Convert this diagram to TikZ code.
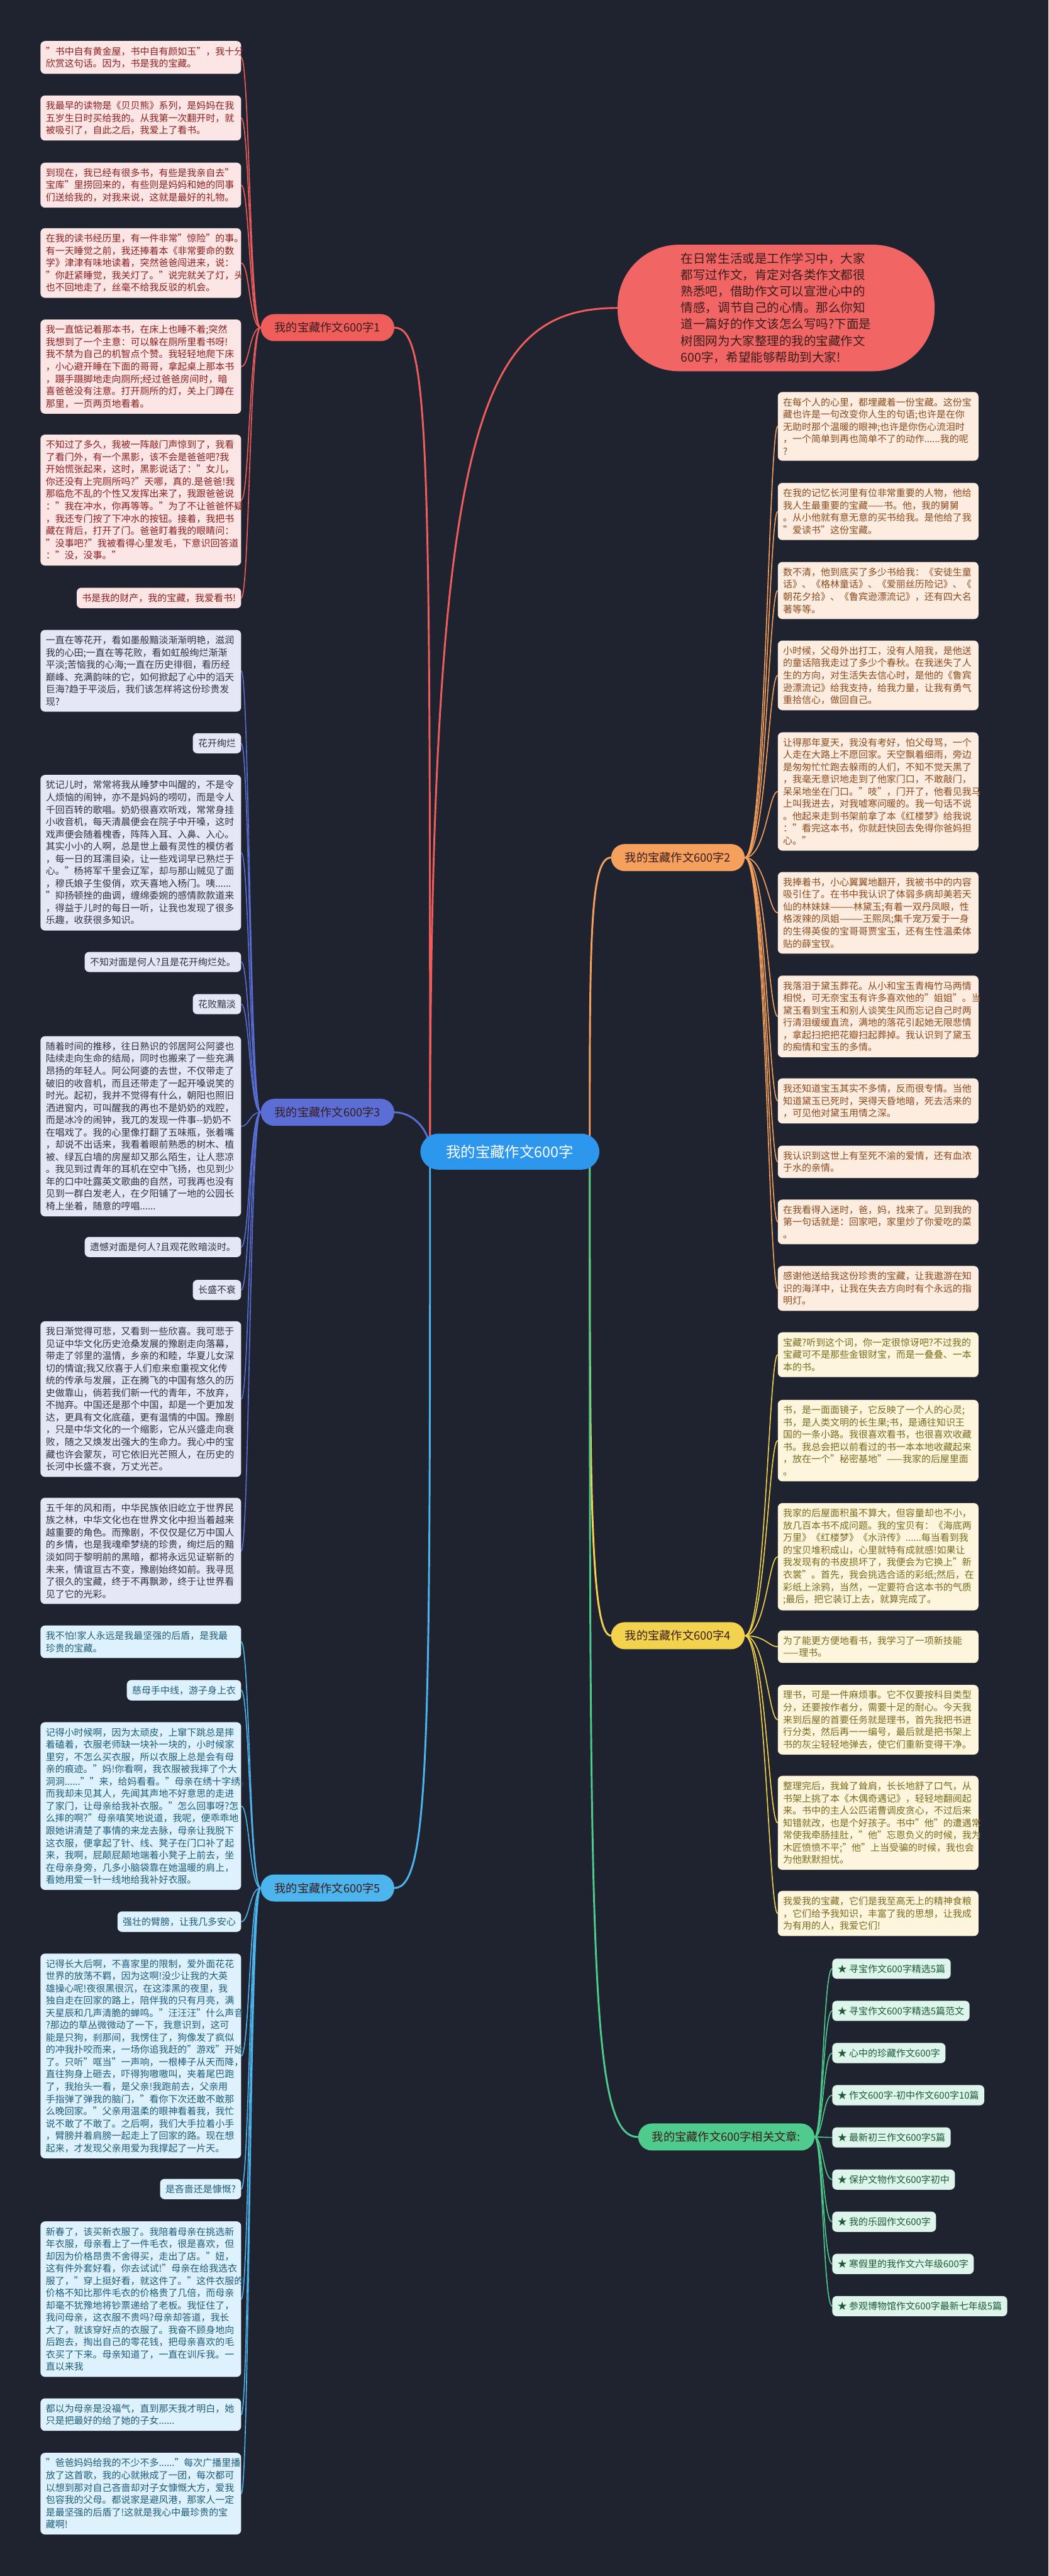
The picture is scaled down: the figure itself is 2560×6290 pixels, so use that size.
\documentclass[tikz,border=0pt]{standalone}
\usepackage{fontspec}
\setmainfont{Noto Sans CJK SC}
\pgfdeclarelayer{back}
\pgfdeclarelayer{links}
\pgfsetlayers{back,links,main}
\definecolor{bgc}{HTML}{1F2330}
\definecolor{cred}{HTML}{F05E5C}
\definecolor{cora}{HTML}{F5A05C}
\definecolor{cblu}{HTML}{5A6ED6}
\definecolor{cyel}{HTML}{F3D24E}
\definecolor{ccya}{HTML}{4DB5EE}
\definecolor{cgre}{HTML}{4ECB8D}
\definecolor{cctr}{HTML}{2D97EE}
\definecolor{lrfill}{HTML}{FCE5E5}\definecolor{lrtext}{HTML}{8E1F1F}
\definecolor{lofill}{HTML}{FDEDE0}\definecolor{lotext}{HTML}{8B4A1E}
\definecolor{lbfill}{HTML}{E5E7F7}\definecolor{lbtext}{HTML}{2E3142}
\definecolor{lyfill}{HTML}{FDF6DD}\definecolor{lytext}{HTML}{7A6A1E}
\definecolor{lcfill}{HTML}{DDF2FC}\definecolor{lctext}{HTML}{1F5C7A}
\definecolor{lgfill}{HTML}{DDF5EA}\definecolor{lgtext}{HTML}{1C5A3A}
\definecolor{introtext}{HTML}{3A1C1C}
\tikzset{
  leaf/.style={rectangle, rounded corners=11pt, inner xsep=13pt, inner ysep=14pt,
    font=\fontsize{23}{30}\selectfont, align=left},
  wide/.style={text width=464pt},
  lr/.style={leaf, fill=lrfill, text=lrtext},
  lo/.style={leaf, fill=lofill, text=lotext},
  lb/.style={leaf, fill=lbfill, text=lbtext},
  ly/.style={leaf, fill=lyfill, text=lytext},
  lc/.style={leaf, fill=lcfill, text=lctext},
  lg/.style={leaf, fill=lgfill, text=lgtext},
  branch/.style={rectangle, rounded corners=33pt, minimum height=66pt, inner xsep=34pt,
    font=\fontsize{28}{32}\selectfont, text=introtext},
  link/.style={line width=2.5pt, line cap=round},
  mainlink/.style={line width=4.5pt, line cap=round},
}
\begin{document}
\begin{tikzpicture}[x=1pt,y=-1pt]
\begin{pgfonlayer}{back}
\fill[bgc] (0,0) rectangle (2560,6290);
\end{pgfonlayer}
\useasboundingbox (0,0) rectangle (2560,6290);

% center and intro
\node[rectangle, rounded corners=44pt, fill=cctr, text=white, minimum width=437pt, minimum height=88pt,
  font=\fontsize{36}{40}\selectfont] (ctr) at (1245,2812) {我的宝藏作文600字};
\node[rectangle, rounded corners=150pt, fill=cred!95!white, text=introtext, minimum width=774pt,
  minimum height=309pt, align=left, font=\fontsize{30}{40}\selectfont] (intro) at (1895,752)
  {在日常生活或是工作学习中，大家\\都写过作文，肯定对各类作文都很\\熟悉吧，借助作文可以宣泄心中的\\情感，调节自己的心情。那么你知\\道一篇好的作文该怎么写吗?下面是\\树图网为大家整理的我的宝藏作文\\600字，希望能够帮助到大家!};

% branches
\node[branch, fill=cred, anchor=east] (b1) at (963,800) {我的宝藏作文600字1};
\node[branch, fill=cora, anchor=west] (b2) at (1492,2094) {我的宝藏作文600字2};
\node[branch, fill=cblu, anchor=east] (b3) at (963,2716) {我的宝藏作文600字3};
\node[branch, fill=cyel, anchor=west] (b4) at (1492,3994) {我的宝藏作文600字4};
\node[branch, fill=ccya, anchor=east] (b5) at (963,4610) {我的宝藏作文600字5};
\node[branch, fill=cgre, anchor=east] (b6) at (1989,5218) {我的宝藏作文600字相关文章:};

\coordinate (sl) at (1050,2812);
\coordinate (sr) at (1440,2812);

% ---------- branch 1 (red) ----------
\node[lr, wide, anchor=north east] (r1) at (589,100) {"书中自有黄金屋，书中自有颜如玉"，我十分\\欣赏这句话。因为，书是我的宝藏。};
\node[lr, wide, anchor=north east] (r2) at (589,233) {我最早的读物是《贝贝熊》系列，是妈妈在我\\五岁生日时买给我的。从我第一次翻开时，就\\被吸引了，自此之后，我爱上了看书。};
\node[lr, wide, anchor=north east] (r3) at (589,397) {到现在，我已经有很多书，有些是我亲自去"\\宝库"里捞回来的，有些则是妈妈和她的同事\\们送给我的，对我来说，这就是最好的礼物。};
\node[lr, wide, anchor=north east] (r4) at (589,557) {在我的读书经历里，有一件非常"惊险"的事。\\有一天睡觉之前，我还捧着本《非常要命的数\\学》津津有味地读着，突然爸爸闯进来，说：\\"你赶紧睡觉，我关灯了。"说完就关了灯，头\\也不回地走了，丝毫不给我反驳的机会。};
\node[lr, wide, anchor=north east] (r5) at (589,780) {我一直惦记着那本书，在床上也睡不着;突然\\我想到了一个主意：可以躲在厕所里看书呀!\\我不禁为自己的机智点个赞。我轻轻地爬下床\\，小心避开睡在下面的哥哥，拿起桌上那本书\\，蹑手蹑脚地走向厕所;经过爸爸房间时，暗\\喜爸爸没有注意。打开厕所的灯，关上门蹲在\\那里，一页两页地看着。};
\node[lr, wide, anchor=north east] (r6) at (589,1061) {不知过了多久，我被一阵敲门声惊到了，我看\\了看门外，有一个黑影，该不会是爸爸吧?我\\开始慌张起来，这时，黑影说话了："女儿，\\你还没有上完厕所吗?"天哪，真的.是爸爸!我\\那临危不乱的个性又发挥出来了，我跟爸爸说\\："我在冲水，你再等等。"为了不让爸爸怀疑\\，我还专门按了下冲水的按钮。接着，我把书\\藏在背后，打开了门。爸爸盯着我的眼睛问：\\"没事吧?"我被看得心里发毛，下意识回答道\\："没，没事。"};
\node[lr, anchor=north east] (r7) at (589,1435) {书是我的财产，我的宝藏，我爱看书!};

% ---------- branch 3 (blue) ----------
\node[lb, wide, anchor=north east] (u1) at (589,1538) {一直在等花开，看如墨般黯淡渐渐明艳，滋润\\我的心田;一直在等花败，看如虹般绚烂渐渐\\平淡;苦恼我的心海;一直在历史徘徊，看历经\\巅峰、充满韵味的它，如何掀起了心中的滔天\\巨海?趋于平淡后，我们该怎样将这份珍贵发\\现?};
\node[lb, anchor=north east] (u2) at (589,1790) {花开绚烂};
\node[lb, wide, anchor=north east] (u3) at (589,1892) {犹记儿时，常常将我从睡梦中叫醒的，不是令\\人烦恼的闹钟，亦不是妈妈的唠叨，而是令人\\千回百转的歌唱。奶奶很喜欢听戏，常常身挂\\小收音机，每天清晨便会在院子中开嗓，这时\\戏声便会随着槐香，阵阵入耳、入鼻、入心。\\其实小小的人啊，总是世上最有灵性的模仿者\\，每一日的耳濡目染，让一些戏词早已熟烂于\\心。"杨将军千里会辽军，却与那山贼见了面\\，穆氏娘子生俊俏，欢天喜地入杨门。咦......\\"抑扬顿挫的曲调，缠绵委婉的感情款款道来\\，得益于儿时的每日一听，让我也发现了很多\\乐趣，收获很多知识。};
\node[lb, anchor=north east] (u4) at (589,2324) {不知对面是何人?且是花开绚烂处。};
\node[lb, anchor=north east] (u5) at (589,2427) {花败黯淡};
\node[lb, wide, anchor=north east] (u6) at (589,2530) {随着时间的推移，往日熟识的邻居阿公阿婆也\\陆续走向生命的结局，同时也搬来了一些充满\\昂扬的年轻人。阿公阿婆的去世，不仅带走了\\破旧的收音机，而且还带走了一起开嗓说笑的\\时光。起初，我并不觉得有什么，朝阳也照旧\\洒进窗内，可叫醒我的再也不是奶奶的戏腔，\\而是冰冷的闹钟，我兀的发现一件事-{}-奶奶不\\在唱戏了。我的心里像打翻了五味瓶，张着嘴\\，却说不出话来，我看着眼前熟悉的树木、植\\被、绿瓦白墙的房屋却又那么陌生，让人悲凉\\。我见到过青年的耳机在空中飞扬，也见到少\\年的口中吐露英文歌曲的自然，可我再也没有\\见到一群白发老人，在夕阳铺了一地的公园长\\椅上坐着，随意的哼唱......};
\node[lb, anchor=north east] (u7) at (589,3020) {遗憾对面是何人?且观花败暗淡时。};
\node[lb, anchor=north east] (u8) at (589,3125) {长盛不衰};
\node[lb, wide, anchor=north east] (u9) at (589,3226) {我日渐觉得可悲，又看到一些欣喜。我可悲于\\见证中华文化历史沧桑发展的豫剧走向落幕，\\带走了邻里的温情，乡亲的和睦，华夏儿女深\\切的情谊;我又欣喜于人们愈来愈重视文化传\\统的传承与发展，正在腾飞的中国有悠久的历\\史做靠山，倘若我们新一代的青年，不放弃，\\不抛弃。中国还是那个中国，却是一个更加发\\达，更具有文化底蕴，更有温情的中国。豫剧\\，只是中华文化的一个缩影，它从兴盛走向衰\\败，随之又焕发出强大的生命力。我心中的宝\\藏也许会蒙灰，可它依旧光芒照人，在历史的\\长河中长盛不衰，万丈光芒。};
\node[lb, wide, anchor=north east] (u10) at (589,3657) {五千年的风和雨，中华民族依旧屹立于世界民\\族之林，中华文化也在世界文化中担当着越来\\越重要的角色。而豫剧，不仅仅是亿万中国人\\的乡情，也是我魂牵梦绕的珍贵，绚烂后的黯\\淡如同于黎明前的黑暗，都将永远见证崭新的\\未来，情谊亘古不变，豫剧始终如前。我寻觅\\了很久的宝藏，终于不再飘渺，终于让世界看\\见了它的光彩。};

% ---------- branch 5 (cyan) ----------
\node[lc, wide, anchor=north east] (c1) at (589,3969) {我不怕!家人永远是我最坚强的后盾，是我最\\珍贵的宝藏。};
\node[lc, anchor=north east] (c2) at (589,4102) {慈母手中线，游子身上衣};
\node[lc, wide, anchor=north east] (c3) at (589,4205) {记得小时候啊，因为太顽皮，上窜下跳总是摔\\着磕着，衣服老师缺一块补一块的，小时候家\\里穷，不怎么买衣服，所以衣服上总是会有母\\亲的痕迹。"妈!你看啊，我衣服被我摔了个大\\洞洞......""来，给妈看看。"母亲在绣十字绣，\\而我却未见其人，先闻其声地不好意思的走进\\了家门，让母亲给我补衣服。"怎么回事呀?怎\\么摔的啊?"母亲嗔笑地说道，我呢，便乖乖地\\跟她讲清楚了事情的来龙去脉，母亲让我脱下\\这衣服，便拿起了针、线、凳子在门口补了起\\来，我啊，屁颠屁颠地端着小凳子上前去，坐\\在母亲身旁，几多小脑袋靠在她温暖的肩上，\\看她用爱一针一线地给我补好衣服。};
\node[lc, anchor=north east] (c4) at (589,4667) {强壮的臂膀，让我几多安心};
\node[lc, wide, anchor=north east] (c5) at (589,4770) {记得长大后啊，不喜家里的限制，爱外面花花\\世界的放荡不羁，因为这啊!没少让我的大英\\雄操心呢!夜很黑很沉，在这漆黑的夜里，我\\独自走在回家的路上，陪伴我的只有月亮，满\\天星辰和几声清脆的蝉鸣。"汪汪汪"什么声音\\?那边的草丛微微动了一下，我意识到，这可\\能是只狗，刹那间，我愣住了，狗像发了疯似\\的冲我扑咬而来，一场你追我赶的"游戏"开始\\了。只听"哐当"一声响，一根棒子从天而降，\\直往狗身上砸去，吓得狗嗷嗷叫，夹着尾巴跑\\了，我抬头一看，是父亲!我跑前去，父亲用\\手指弹了弹我的脑门，"看你下次还敢不敢那\\么晚回家。"父亲用温柔的眼神看着我，我忙\\说不敢了不敢了。之后啊，我们大手拉着小手\\，臂膀并着肩膀一起走上了回家的路。现在想\\起来，才发现父亲用爱为我撑起了一片天。};
\node[lc, anchor=north east] (c6) at (589,5320) {是吝啬还是慷慨?};
\node[lc, wide, anchor=north east] (c7) at (589,5424) {新春了，该买新衣服了。我陪着母亲在挑选新\\年衣服，母亲看上了一件毛衣，很是喜欢，但\\却因为价格昂贵不舍得买，走出了店。"妞，\\这有件外套好看，你去试试!"母亲在给我选衣\\服了，"穿上挺好看，就这件了。"这件衣服的\\价格不知比那件毛衣的价格贵了几倍，而母亲\\却毫不犹豫地将钞票递给了老板。我怔住了，\\我问母亲，这衣服不贵吗?母亲却答道，我长\\大了，就该穿好点的衣服了。我奋不顾身地向\\后跑去，掏出自己的零花钱，把母亲喜欢的毛\\衣买了下来。母亲知道了，一直在训斥我。一\\直以来我};
\node[lc, wide, anchor=north east] (c8) at (589,5856) {都以为母亲是没福气，直到那天我才明白，她\\只是把最好的给了她的子女......};
\node[lc, wide, anchor=north east] (c9) at (589,5989) {"爸爸妈妈给我的不少不多......"每次广播里播\\放了这首歌，我的心就揪成了一团，每次都可\\以想到那对自己吝啬却对子女慷慨大方，爱我\\包容我的父母。都说家是避风港，那家人一定\\是最坚强的后盾了!这就是我心中最珍贵的宝\\藏啊!};

% ---------- branch 2 (orange) ----------
\node[lo, wide, anchor=north west] (o1) at (1899,957) {在每个人的心里，都埋藏着一份宝藏。这份宝\\藏也许是一句改变你人生的句语;也许是在你\\无助时那个温暖的眼神;也许是你伤心流泪时\\，一个简单到再也简单不了的动作......我的呢\\?};
\node[lo, wide, anchor=north west] (o2) at (1899,1179) {在我的记忆长河里有位非常重要的人物，他给\\我人生最重要的宝藏——书。他，我的舅舅\\。从小他就有意无意的买书给我。是他给了我\\"爱读书"这份宝藏。};
\node[lo, wide, anchor=north west] (o3) at (1899,1372) {数不清，他到底买了多少书给我：《安徒生童\\话》、《格林童话》、《爱丽丝历险记》、《\\朝花夕拾》、《鲁宾逊漂流记》，还有四大名\\著等等。};
\node[lo, wide, anchor=north west] (o4) at (1899,1564) {小时候，父母外出打工，没有人陪我，是他送\\的童话陪我走过了多少个春秋。在我迷失了人\\生的方向，对生活失去信心时，是他的《鲁宾\\逊漂流记》给我支持，给我力量，让我有勇气\\重拾信心，做回自己。};
\node[lo, wide, anchor=north west] (o5) at (1899,1788) {让得那年夏天，我没有考好，怕父母骂，一个\\人走在大路上不愿回家。天空飘着细雨，旁边\\是匆匆忙忙跑去躲雨的人们，不知不觉天黑了\\，我毫无意识地走到了他家门口，不敢敲门，\\呆呆地坐在门口。"吱"，门开了，他看见我马\\上叫我进去，对我嘘寒问暖的。我一句话不说\\。他起来走到书架前拿了本《红楼梦》给我说\\："看完这本书，你就赶快回去免得你爸妈担\\心。"};
\node[lo, wide, anchor=north west] (o6) at (1899,2129) {我捧着书，小心翼翼地翻开，我被书中的内容\\吸引住了。在书中我认识了体弱多病却美若天\\仙的林妹妹———林黛玉;有着一双丹凤眼，性\\格泼辣的凤姐———王熙凤;集千宠万爱于一身\\的生得英俊的宝哥哥贾宝玉，还有生性温柔体\\贴的薛宝钗。};
\node[lo, wide, anchor=north west] (o7) at (1899,2382) {我落泪于黛玉葬花。从小和宝玉青梅竹马两情\\相悦，可无奈宝玉有许多喜欢他的"姐姐"。当\\黛玉看到宝玉和别人谈笑生风而忘记自己时两\\行清泪缓缓直流，满地的落花引起她无限悲情\\，拿起扫把把花瓣扫起葬掉。我认识到了黛玉\\的痴情和宝玉的多情。};
\node[lo, wide, anchor=north west] (o8) at (1899,2633) {我还知道宝玉其实不多情，反而很专情。当他\\知道黛玉已死时，哭得天昏地暗，死去活来的\\，可见他对黛玉用情之深。};
\node[lo, wide, anchor=north west] (o9) at (1899,2797) {我认识到这世上有至死不渝的爱情，还有血浓\\于水的亲情。};
\node[lo, wide, anchor=north west] (o10) at (1899,2929) {在我看得入迷时，爸，妈，找来了。见到我的\\第一句话就是：回家吧，家里炒了你爱吃的菜\\。};
\node[lo, wide, anchor=north west] (o11) at (1899,3091) {感谢他送给我这份珍贵的宝藏，让我遨游在知\\识的海洋中，让我在失去方向时有个永远的指\\明灯。};

% ---------- branch 4 (yellow) ----------
\node[ly, wide, anchor=north west] (y1) at (1899,3253) {宝藏?听到这个词，你一定很惊讶吧?不过我的\\宝藏可不是那些金银财宝，而是一叠叠、一本\\本的书。};
\node[ly, wide, anchor=north west] (y2) at (1899,3418) {书，是一面面镜子，它反映了一个人的心灵;\\书，是人类文明的长生果;书，是通往知识王\\国的一条小路。我很喜欢看书，也很喜欢收藏\\书。我总会把以前看过的书一本本地收藏起来\\，放在一个"秘密基地"——我家的后屋里面\\。};
\node[ly, wide, anchor=north west] (y3) at (1899,3670) {我家的后屋面积虽不算大，但容量却也不小，\\放几百本书不成问题。我的宝贝有：《海底两\\万里》《红楼梦》《水浒传》......每当看到我\\的宝贝堆积成山，心里就特有成就感!如果让\\我发现有的书皮损坏了，我便会为它换上"新\\衣裳"。首先，我会挑选合适的彩纸;然后，在\\彩纸上涂鸦，当然，一定要符合这本书的气质\\;最后，把它装订上去，就算完成了。};
\node[ly, wide, anchor=north west] (y4) at (1899,3981) {为了能更方便地看书，我学习了一项新技能\\——理书。};
\node[ly, wide, anchor=north west] (y5) at (1899,4114) {理书，可是一件麻烦事。它不仅要按科目类型\\分，还要按作者分，需要十足的耐心。今天我\\来到后屋的首要任务就是理书，首先我把书进\\行分类，然后再一一编号，最后就是把书架上\\书的灰尘轻轻地弹去，使它们重新变得干净。};
\node[ly, wide, anchor=north west] (y6) at (1899,4336) {整理完后，我耸了耸肩，长长地舒了口气，从\\书架上挑了本《木偶奇遇记》，轻轻地翻阅起\\来。书中的主人公匹诺曹调皮贪心，不过后来\\知错就改，也是个好孩子。书中"他"的遭遇常\\常使我牵肠挂肚，"他"忘恩负义的时候，我为\\木匠愤愤不平;"他"上当受骗的时候，我也会\\为他默默担忧。};
\node[ly, wide, anchor=north west] (y7) at (1899,4617) {我爱我的宝藏，它们是我至高无上的精神食粮\\，它们给予我知识，丰富了我的思想，让我成\\为有用的人，我爱它们!};

% ---------- branch 6 (green) ----------
\node[lg, anchor=west] (g1) at (2032,4807) {★ 寻宝作文600字精选5篇};
\node[lg, anchor=west] (g2) at (2032,4910) {★ 寻宝作文600字精选5篇范文};
\node[lg, anchor=west] (g3) at (2032,5013) {★ 心中的珍藏作文600字};
\node[lg, anchor=west] (g4) at (2032,5116) {★ 作文600字-初中作文600字10篇};
\node[lg, anchor=west] (g5) at (2032,5219) {★ 最新初三作文600字5篇};
\node[lg, anchor=west] (g6) at (2032,5322) {★ 保护文物作文600字初中};
\node[lg, anchor=west] (g7) at (2032,5425) {★ 我的乐园作文600字};
\node[lg, anchor=west] (g8) at (2032,5528) {★ 寒假里的我作文六年级600字};
\node[lg, anchor=west] (g9) at (2032,5631) {★ 参观博物馆作文600字最新七年级5篇};

% ---------- connectors ----------
\begin{pgfonlayer}{links}
\draw[mainlink, cred] (sl) .. controls (1050,1100) and (1050,800) .. (b1.east);
\draw[mainlink, cred] (sl) .. controls (1050,1000) and (1180,753) .. (intro.west);
\draw[mainlink, cblu] (sl) .. controls (1050,2760) and (1010,2716) .. (b3.east);
\draw[mainlink, ccya] (sl) .. controls (1050,4250) and (1050,4610) .. (b5.east);
\draw[mainlink, cora] (sr) .. controls (1440,2300) and (1440,2094) .. (b2.west);
\draw[mainlink, cyel] (sr) .. controls (1440,3600) and (1440,3994) .. (b4.west);
\draw[mainlink, cgre] (sr) .. controls (1440,4800) and (1440,5218) .. (b6.west);
\foreach \n in {r1,r2,r3,r4,r5,r6,r7}
  \draw[link, cred] (b1.west) .. controls +(-27,0) and +(20,0) .. (\n.east);
\foreach \n in {u1,u2,u3,u4,u5,u6,u7,u8,u9,u10}
  \draw[link, cblu] (b3.west) .. controls +(-27,0) and +(20,0) .. (\n.east);
\foreach \n in {c1,c2,c3,c4,c5,c6,c7,c8,c9}
  \draw[link, ccya] (b5.west) .. controls +(-27,0) and +(20,0) .. (\n.east);
\foreach \n in {o1,o2,o3,o4,o5,o6,o7,o8,o9,o10,o11}
  \draw[link, cora] (b2.east) .. controls +(51,0) and +(-22,0) .. (\n.west);
\foreach \n in {y1,y2,y3,y4,y5,y6,y7}
  \draw[link, cyel] (b4.east) .. controls +(51,0) and +(-22,0) .. (\n.west);
\foreach \n in {g1,g2,g3,g4,g5,g6,g7,g8,g9}
  \draw[link, cgre] (b6.east) .. controls +(20,0) and +(-22,0) .. (\n.west);
\end{pgfonlayer}
\end{tikzpicture}
\end{document}
